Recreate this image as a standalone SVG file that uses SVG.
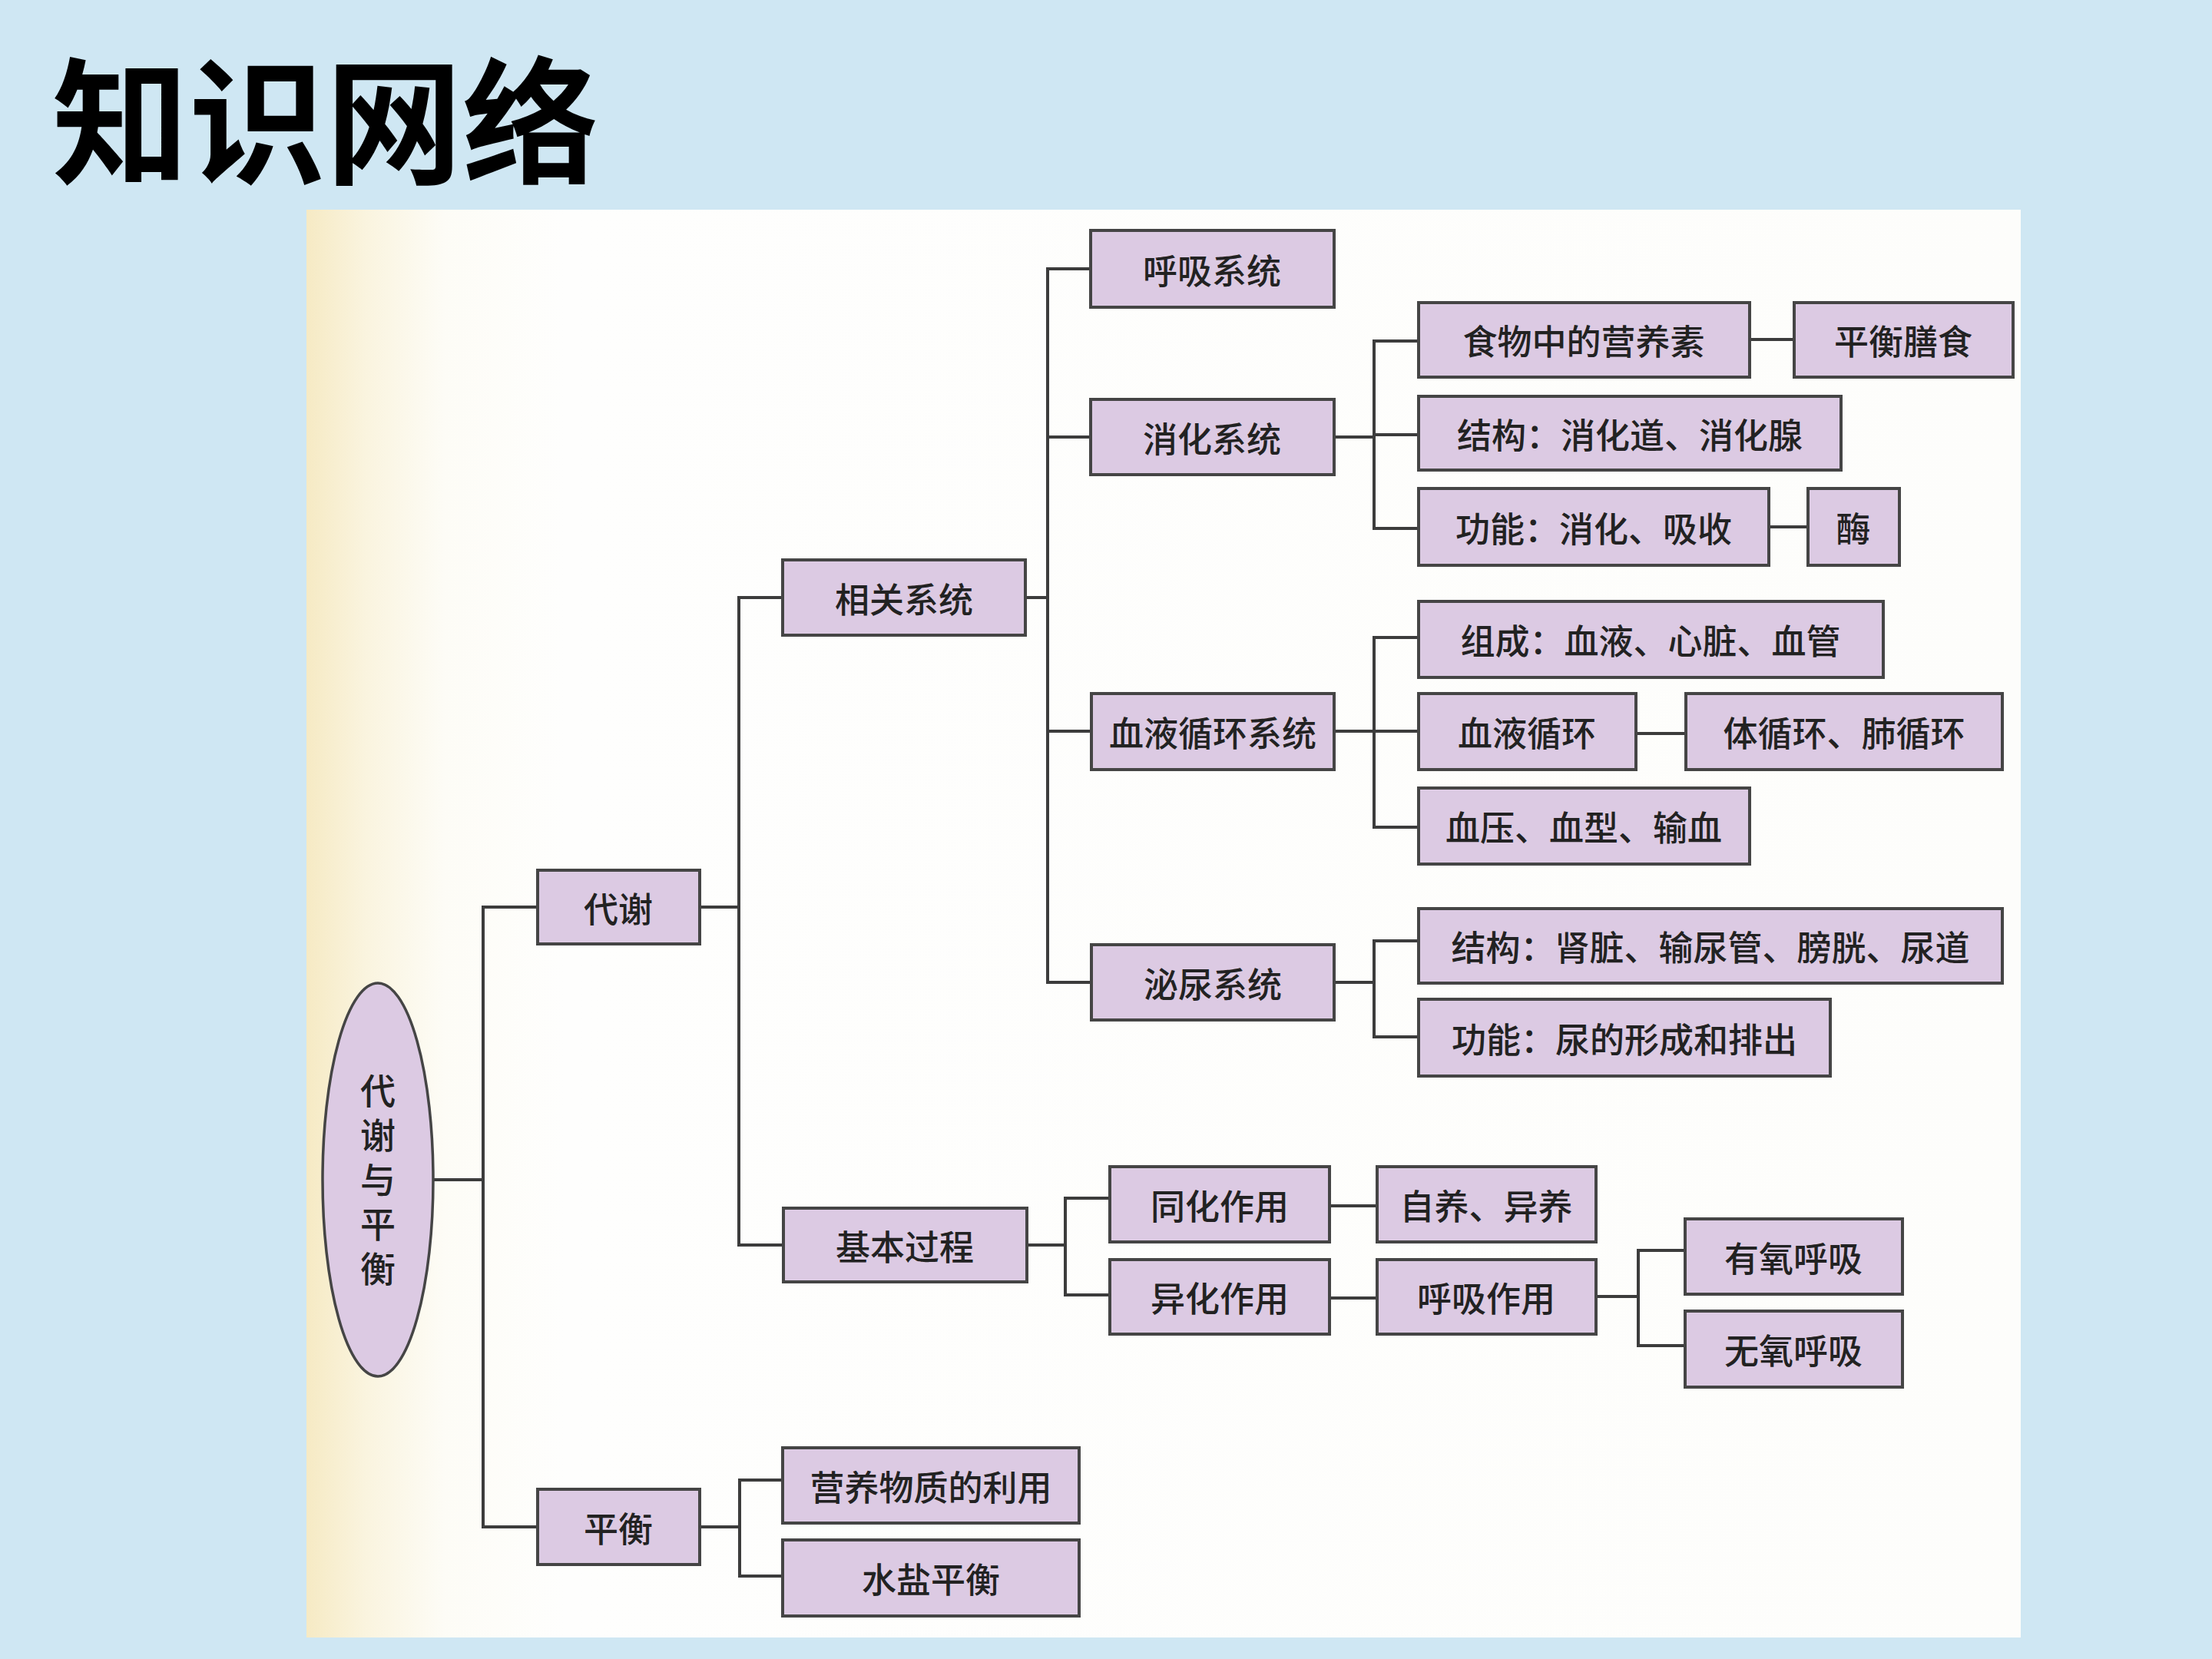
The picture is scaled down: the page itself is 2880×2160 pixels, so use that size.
<svg xmlns="http://www.w3.org/2000/svg" width="2880" height="2160" viewBox="0 0 2880 2160">
<defs>
<linearGradient id="panelGrad" x1="0" y1="0" x2="1" y2="0" gradientUnits="objectBoundingBox">
<stop offset="0" stop-color="#f6eac4"/>
<stop offset="0.035" stop-color="#faf4df"/>
<stop offset="0.08" stop-color="#fdfcf6"/>
<stop offset="0.15" stop-color="#fefefd"/>
<stop offset="1" stop-color="#fdfdfb"/>
</linearGradient>
<style>
.bx{fill:#dccae3;stroke:#454545;stroke-width:4}
.el{fill:#dccae3;stroke:#454545;stroke-width:3.5}
.lb{font-family:"Noto Sans CJK SC","Noto Sans CJK TC",sans-serif;font-size:45px;font-weight:500;fill:#222;text-anchor:middle;dominant-baseline:central}
.vt{font-family:"Noto Sans CJK SC","Noto Sans CJK TC",sans-serif;font-size:46px;font-weight:500;fill:#222;text-anchor:middle;writing-mode:vertical-rl;letter-spacing:12px}
.cn{fill:none;stroke:#3c3c3c;stroke-width:4;stroke-linecap:square}
</style>
</defs>
<rect x="0" y="0" width="2880" height="2160" fill="#cfe7f3"/>
<text x="68" y="226" font-family="Noto Sans CJK SC, sans-serif" font-size="178" font-weight="700" fill="#000">知识网络</text>
<rect x="399" y="273" width="2232" height="1859" fill="url(#panelGrad)"/>

<g id="connectors">
<path class="cn" d="M565,1536 H629 M629,1181 V1988 M629,1181 H700 M629,1988 H700"/>
<path class="cn" d="M911,1181 H962 M962,778 V1621 M962,778 H1019 M962,1621 H1020"/>
<path class="cn" d="M1335,778 H1364 M1364,350 V1279 M1364,350 H1420 M1364,569 H1420 M1364,952 H1421 M1364,1279 H1421"/>
<path class="cn" d="M1737,569 H1789 M1789,444 V688 M1789,444 H1847 M1789,566 H1847 M1789,688 H1847"/>
<path class="cn" d="M2278,442 H2336 M2303,686 H2354"/>
<path class="cn" d="M1737,952 H1789 M1789,830 V1077 M1789,830 H1847 M1789,952 H1847 M1789,1077 H1847 M2130,955 H2195"/>
<path class="cn" d="M1737,1279 H1789 M1789,1225 V1350 M1789,1225 H1847 M1789,1350 H1847"/>
<path class="cn" d="M1337,1621 H1387 M1387,1560 V1686 M1387,1560 H1445 M1387,1686 H1445"/>
<path class="cn" d="M1731,1570 H1793 M1731,1690 H1793"/>
<path class="cn" d="M2078,1688 H2133 M2133,1628 V1752 M2133,1628 H2194 M2133,1752 H2194"/>
<path class="cn" d="M911,1988 H963 M963,1927 V2052 M963,1927 H1019 M963,2052 H1019"/>
</g>

<g id="root">
<ellipse class="el" cx="492" cy="1536" rx="72" ry="256"/>
<text class="vt" x="492" y="1542">代谢与平衡</text>
</g>

<g id="n-daixie"><rect class="bx" x="700" y="1133" width="211" height="96"/><text class="lb" x="805" y="1181">代谢</text></g>
<g id="n-pingheng"><rect class="bx" x="700" y="1939" width="211" height="98"/><text class="lb" x="805" y="1988">平衡</text></g>

<g id="n-xiangguan"><rect class="bx" x="1019" y="729" width="316" height="98"/><text class="lb" x="1177" y="778">相关系统</text></g>
<g id="n-jiben"><rect class="bx" x="1020" y="1573" width="317" height="96"/><text class="lb" x="1178" y="1621">基本过程</text></g>
<g id="n-yingyang"><rect class="bx" x="1019" y="1885" width="386" height="98"/><text class="lb" x="1212" y="1934">营养物质的利用</text></g>
<g id="n-shuiyan"><rect class="bx" x="1019" y="2005" width="386" height="99"/><text class="lb" x="1212" y="2054">水盐平衡</text></g>

<g id="n-huxi"><rect class="bx" x="1420" y="300" width="317" height="100"/><text class="lb" x="1578" y="350">呼吸系统</text></g>
<g id="n-xiaohua"><rect class="bx" x="1420" y="520" width="317" height="98"/><text class="lb" x="1578" y="569">消化系统</text></g>
<g id="n-xueye"><rect class="bx" x="1421" y="903" width="316" height="99"/><text class="lb" x="1579" y="952">血液循环系统</text></g>
<g id="n-miniao"><rect class="bx" x="1421" y="1230" width="316" height="98"/><text class="lb" x="1579" y="1279">泌尿系统</text></g>

<g id="n-shiwu"><rect class="bx" x="1847" y="394" width="431" height="97"/><text class="lb" x="2062" y="442">食物中的营养素</text></g>
<g id="n-shanshi"><rect class="bx" x="2336" y="394" width="285" height="97"/><text class="lb" x="2478" y="442">平衡膳食</text></g>
<g id="n-jiegou1"><rect class="bx" x="1847" y="516" width="550" height="96"/><text class="lb" x="2122" y="564">结构：消化道、消化腺</text></g>
<g id="n-gongneng1"><rect class="bx" x="1847" y="636" width="456" height="100"/><text class="lb" x="2075" y="686">功能：消化、吸收</text></g>
<g id="n-mei"><rect class="bx" x="2354" y="636" width="119" height="100"/><text class="lb" x="2413" y="686">酶</text></g>

<g id="n-zucheng"><rect class="bx" x="1847" y="783" width="605" height="99"/><text class="lb" x="2149" y="832">组成：血液、心脏、血管</text></g>
<g id="n-xunhuan"><rect class="bx" x="1847" y="903" width="283" height="99"/><text class="lb" x="1988" y="952">血液循环</text></g>
<g id="n-tixunhuan"><rect class="bx" x="2195" y="903" width="412" height="99"/><text class="lb" x="2401" y="952">体循环、肺循环</text></g>
<g id="n-xueya"><rect class="bx" x="1847" y="1026" width="431" height="99"/><text class="lb" x="2062" y="1075">血压、血型、输血</text></g>

<g id="n-jiegou2"><rect class="bx" x="1847" y="1183" width="760" height="97"/><text class="lb" x="2227" y="1231">结构：肾脏、输尿管、膀胱、尿道</text></g>
<g id="n-gongneng2"><rect class="bx" x="1847" y="1301" width="536" height="100"/><text class="lb" x="2115" y="1351">功能：尿的形成和排出</text></g>

<g id="n-tonghua"><rect class="bx" x="1445" y="1519" width="286" height="98"/><text class="lb" x="1588" y="1568">同化作用</text></g>
<g id="n-yihua"><rect class="bx" x="1445" y="1640" width="286" height="97"/><text class="lb" x="1588" y="1688">异化作用</text></g>
<g id="n-ziyang"><rect class="bx" x="1793" y="1519" width="285" height="98"/><text class="lb" x="1935" y="1568">自养、异养</text></g>
<g id="n-huxizuoyong"><rect class="bx" x="1793" y="1640" width="285" height="97"/><text class="lb" x="1935" y="1688">呼吸作用</text></g>
<g id="n-youyang"><rect class="bx" x="2194" y="1587" width="283" height="98"/><text class="lb" x="2335" y="1636">有氧呼吸</text></g>
<g id="n-wuyang"><rect class="bx" x="2194" y="1707" width="283" height="99"/><text class="lb" x="2335" y="1756">无氧呼吸</text></g>
</svg>
